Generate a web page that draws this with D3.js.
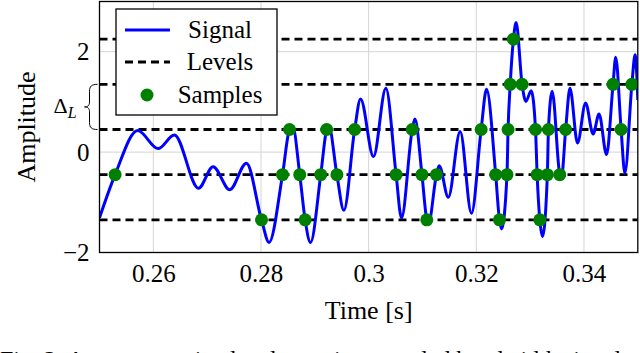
<!DOCTYPE html>
<html>
<head>
<meta charset="utf-8">
<script src="https://cdn.jsdelivr.net/npm/d3@7"></script>
<style>
  body { margin: 0; background: #fff; }
  text { font-family: "Liberation Serif", "DejaVu Serif", serif; }
</style>
</head>
<body>
<div id="graph"></div>
<script>
// signal knots (time in s, amplitude)
var signalTime = [0.2500, 0.2529, 0.2571, 0.2609, 0.2639, 0.2684, 0.2711, 0.2742, 0.2773, 0.2801,
    0.2815, 0.2840, 0.2853, 0.2859, 0.2872, 0.2882, 0.2892, 0.2911, 0.2922, 0.2926,
    0.2941, 0.2954, 0.2974, 0.2985, 0.3009, 0.3032, 0.3051, 0.3061, 0.3081, 0.3086,
    0.3099, 0.3108, 0.3111, 0.3126, 0.3131, 0.3148, 0.3170, 0.3191, 0.3209, 0.3219,
    0.3236, 0.3243, 0.3247, 0.3257, 0.3259, 0.3263, 0.3269, 0.3274, 0.3285, 0.3292,
    0.3302, 0.3310, 0.3313, 0.3318, 0.3323, 0.3332, 0.3334, 0.3341, 0.3355, 0.3358,
    0.3366, 0.3374, 0.3388, 0.3403, 0.3417, 0.3428, 0.3442, 0.3454, 0.3459, 0.3469,
    0.3476, 0.3489, 0.3495, 0.3500];
var signalValue = [-1.31, -0.45, 0.43, 0.07, 0.34, -0.72, -0.29, -0.75, -0.22, -1.35,
    -1.80, -0.45, 0.45, 0.51, -0.45, -1.35, -1.80, -0.45, 0.45, 0.52,
    -0.45, -1.16, 0.45, 1.06, -0.09, 1.27, -0.45, -1.31, 0.45, 0.66,
    -0.45, -1.35, -1.43, -0.45, -0.27, -0.90, 0.41, -1.22, 0.45, 1.25,
    -0.45, -1.35, -1.53, -0.45, 0.45, 1.35, 2.25, 2.58, 1.35, 1.01,
    1.22, 0.45, -0.45, -1.35, -1.68, -0.45, 0.45, 1.21, -0.45, -0.53,
    0.45, 1.27, 0.18, 0.98, 0.36, 0.76, -0.05, 1.35, 1.89, 0.45,
    -0.42, 1.35, 1.94, 1.04];

// quantisation levels
var levels = [-1.35, -0.45, 0.45, 1.35, 2.25];

// level-crossing samples
var sampleTime = [0.2529, 0.2801, 0.2840, 0.2853, 0.2872, 0.2882, 0.2911, 0.2922, 0.2941, 0.2974,
    0.3051, 0.3081, 0.3099, 0.3108, 0.3126, 0.3209, 0.3236, 0.3243, 0.3257, 0.3259,
    0.3263, 0.3269, 0.3285, 0.3310, 0.3313, 0.3318, 0.3332, 0.3334, 0.3355, 0.3366,
    0.3454, 0.3469, 0.3489];
var sampleLevel = [-0.45, -1.35, -0.45, 0.45, -0.45, -1.35, -0.45, 0.45, -0.45, 0.45,
    -0.45, 0.45, -0.45, -1.35, -0.45, 0.45, -0.45, -1.35, -0.45, 0.45,
    1.35, 2.25, 1.35, 0.45, -0.45, -1.35, -0.45, 0.45, -0.45, 0.45,
    1.35, 0.45, 1.35];

var xTicks = [0.26, 0.28, 0.30, 0.32, 0.34];
var xTickLabels = ["0.26", "0.28", "0.3", "0.32", "0.34"];
var yTicks = [-2, 0, 2];
var yTickLabels = ["\u22122", "0", "2"];
var legendLabels = ["Signal", "Levels", "Samples"];

var W = 640, H = 353;
var margin = {top: 1.5, right: 2.2, bottom: 100.5, left: 99.5},
    width = W - margin.left - margin.right,
    height = H - margin.top - margin.bottom;

var svg = d3.select('#graph').html('')
    .append("svg")
    .attr("width", W)
    .attr("height", H);

var g = svg.append("g")
    .attr("transform", "translate(" + margin.left + "," + margin.top + ")");

var x = d3.scaleLinear().domain([0.25, 0.35]).range([0, width]);
var y = d3.scaleLinear().domain([-2, 3]).range([height, 0]);

// grid
var grid = g.append("g").attr("class", "grid");
grid.selectAll("line.gx")
    .data(xTicks)
    .enter().append("line")
    .attr("x1", function (d) { return x(d); })
    .attr("x2", function (d) { return x(d); })
    .attr("y1", 0).attr("y2", height)
    .attr("stroke", "#d4d4d4").attr("stroke-width", 1);
grid.selectAll("line.gy")
    .data(yTicks)
    .enter().append("line")
    .attr("x1", 0).attr("x2", width)
    .attr("y1", function (d) { return y(d); })
    .attr("y2", function (d) { return y(d); })
    .attr("stroke", "#d4d4d4").attr("stroke-width", 1);

// axes (labels only, pgfplots style)
var xAxis = g.append("g")
    .attr("transform", "translate(0," + height + ")")
    .call(d3.axisBottom(x).tickValues(xTicks).tickSize(0).tickPadding(12)
        .tickFormat(function (d, i) { return xTickLabels[i]; }));
xAxis.select(".domain").remove();
xAxis.selectAll("text")
    .attr("font-size", 25).attr("fill", "#000")
    .attr("font-family", "Liberation Serif");

var yAxis = g.append("g")
    .call(d3.axisLeft(y).tickValues(yTicks).tickSize(0).tickPadding(10)
        .tickFormat(function (d, i) { return yTickLabels[i]; }));
yAxis.select(".domain").remove();
yAxis.selectAll("text")
    .attr("font-size", 25).attr("fill", "#000")
    .attr("font-family", "Liberation Serif");

// clip for the plot contents
svg.append("clipPath").attr("id", "clip")
    .append("rect").attr("x", 0).attr("y", 0).attr("width", width).attr("height", height);
var plot = g.append("g").attr("clip-path", "url(#clip)");

// levels
plot.selectAll("line.level")
    .data(levels)
    .enter().append("line")
    .attr("class", "level")
    .attr("x1", 0).attr("x2", width)
    .attr("y1", function (d) { return y(d); })
    .attr("y2", function (d) { return y(d); })
    .attr("stroke", "#000")
    .attr("stroke-width", 2.8)
    .attr("stroke-dasharray", "8,5");

// signal
var signal = signalTime.map(function (t, i) { return [t, signalValue[i]]; });
var line = d3.line()
    .x(function (d) { return x(d[0]); })
    .y(function (d) { return y(d[1]); })
    .curve(d3.curveMonotoneX);
plot.append("path")
    .datum(signal)
    .attr("d", line)
    .attr("fill", "none")
    .attr("stroke", "#0000ff")
    .attr("stroke-width", 3);

// samples
plot.selectAll("circle")
    .data(sampleTime)
    .enter().append("circle")
    .attr("cx", function (d) { return x(d); })
    .attr("cy", function (d, i) { return y(sampleLevel[i]); })
    .attr("r", 6.5)
    .attr("fill", "#008000");

// frame
g.append("rect")
    .attr("width", width).attr("height", height)
    .attr("fill", "none").attr("stroke", "#000").attr("stroke-width", 1.3);

// brace marking Delta_L between two levels
var bTop = y(levels[3]), bBot = y(levels[2]), bMid = (bTop + bBot) / 2;
g.append("path")
    .attr("d", "M-2," + bTop + " C-8," + bTop + " -10," + (bTop + 2) + " -10," + (bTop + 7) +
        " L-10," + (bMid - 5) + " C-10," + (bMid - 1) + " -12," + bMid + " -15," + bMid +
        " C-12," + bMid + " -10," + (bMid + 1) + " -10," + (bMid + 5) +
        " L-10," + (bBot - 7) + " C-10," + (bBot - 2) + " -8," + bBot + " -2," + bBot)
    .attr("fill", "none").attr("stroke", "#000").attr("stroke-width", 1);
var dl = g.append("text")
    .attr("x", -46).attr("y", bMid + 6)
    .attr("font-size", 22);
dl.append("tspan").text("\u0394");
dl.append("tspan").attr("font-style", "italic").attr("font-size", 16).attr("dy", 5).text("L");

// axis titles
g.append("text")
    .attr("x", width / 2).attr("y", height + 66)
    .attr("text-anchor", "middle").attr("font-size", 26)
    .text("Time [s]");
g.append("text")
    .attr("transform", "translate(" + (-65) + "," + (height / 2) + ") rotate(-90)")
    .attr("text-anchor", "middle").attr("font-size", 26)
    .text("Amplitude");

// legend
var lg = svg.append("g").attr("transform", "translate(116,9)");
lg.append("rect")
    .attr("width", 161).attr("height", 106)
    .attr("fill", "#fff").attr("stroke", "#000").attr("stroke-width", 1.3);
var rowY = [21, 53, 86];
lg.append("line")
    .attr("x1", 9).attr("x2", 54).attr("y1", rowY[0]).attr("y2", rowY[0])
    .attr("stroke", "#0000ff").attr("stroke-width", 3);
lg.append("line")
    .attr("x1", 9).attr("x2", 54).attr("y1", rowY[1]).attr("y2", rowY[1])
    .attr("stroke", "#000").attr("stroke-width", 2.8).attr("stroke-dasharray", "8,5");
lg.append("circle")
    .attr("cx", 31).attr("cy", rowY[2]).attr("r", 6.5).attr("fill", "#008000");
lg.selectAll("text.lab")
    .data(legendLabels)
    .enter().append("text")
    .attr("x", 104)
    .attr("y", function (d, i) { return rowY[i] + 8; })
    .attr("text-anchor", "middle").attr("font-size", 25)
    .text(function (d) { return d; });

// caption, cut by the bottom edge as in the source figure
svg.append("text")
    .attr("x", 0).attr("y", 367)
    .attr("font-size", 24)
    .text("Fig. 2: A representative level-crossing sampled bandwidth signal x(t) (b)");
</script>
</body>
</html>
